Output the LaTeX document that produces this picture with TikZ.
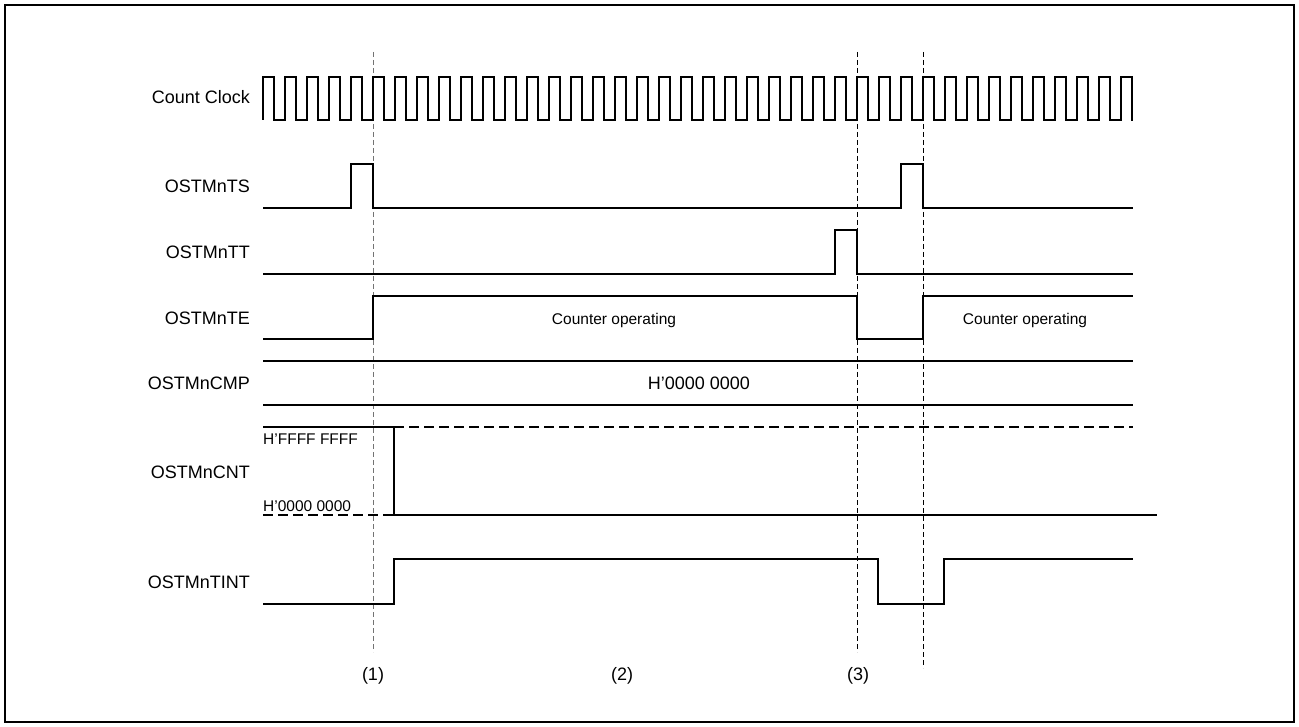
\documentclass[tikz,border=0pt]{standalone}
\usepackage{fontspec}
\setmainfont{Liberation Sans}
\begin{document}
\begin{tikzpicture}[x=1pt,y=-1pt,
  sig/.style={line width=1.6pt, line join=miter},
  lbl/.style={anchor=base east, inner sep=0pt, font=\fontsize{18}{20}\selectfont},
  val/.style={anchor=base, inner sep=0pt, font=\fontsize{18}{20}\selectfont},
  small/.style={anchor=base, inner sep=0pt, font=\fontsize{15.5}{18}\selectfont},
  smallw/.style={anchor=base west, inner sep=0pt, font=\fontsize{15.5}{18}\selectfont},
  guide/.style={line width=1pt, dash pattern=on 5pt off 3pt},
  lvl/.style={line width=1.6pt, dash pattern=on 10pt off 5pt}]
\useasboundingbox (0,0) rectangle (1299,727);
\draw[line width=2pt] (5,5) rectangle (1294,722);

% guide lines
\draw[guide, black!55] (373,52) -- (373,652);
\draw[guide] (857,52) -- (857,652);
\draw[guide] (923,52) -- (923,668);

% labels
\node[lbl] (lclk) at (250,103.5) {Count Clock};
\node[lbl] (lts) at (250,193) {OSTMnTS};
\node[lbl] (ltt) at (250,259) {OSTMnTT};
\node[lbl] (lte) at (250,325) {OSTMnTE};
\node[lbl] (lcmp) at (250,389.5) {OSTMnCMP};
\node[lbl] (lcnt) at (250,478) {OSTMnCNT};
\node[lbl] (ltint) at (250,588.5) {OSTMnTINT};

% Count Clock
\draw[sig] (263,120) \foreach \k in {0,...,38}{ -- ++(0,-43) -- ++(11,0) -- ++(0,43) -- ++(11,0)}
  -- ++(0,-43) -- ++(11,0) -- ++(0,43) -- ++(1,0);

% OSTMnTS
\draw[sig] (263,208) -- (351,208) -- (351,164) -- (373,164) -- (373,208) -- (901,208)
  -- (901,164) -- (923,164) -- (923,208) -- (1133,208);

% OSTMnTT
\draw[sig] (263,274) -- (835,274) -- (835,230) -- (857,230) -- (857,274) -- (1133,274);

% OSTMnTE
\draw[sig] (263,339) -- (373,339) -- (373,296) -- (857,296) -- (857,339) -- (923,339)
  -- (923,296) -- (1133,296);
\node[small] (op1) at (614,325) {Counter operating};
\node[small] (op2) at (1025,325) {Counter operating};

% OSTMnCMP
\draw[sig] (263,361) -- (1133,361);
\draw[sig] (263,405) -- (1133,405);
\node[val] (cmpv) at (699,389.5) {H’0000 0000};

% OSTMnCNT
\draw[sig] (263,427) -- (394,427) -- (394,515) -- (1157,515);
\draw[lvl] (394,427) -- (1133,427);
\draw[lvl] (263,515) -- (394,515);
\node[smallw] (cntmax) at (263,444) {H’FFFF FFFF};
\node[smallw] (cntmin) at (263,511) {H’0000 0000};

% OSTMnTINT
\draw[sig] (263,604) -- (394,604) -- (394,559) -- (878,559) -- (878,604) -- (944,604)
  -- (944,559) -- (1133,559);

% point labels
\node[val] (p1) at (373,680) {(1)};
\node[val] (p2) at (622,680) {(2)};
\node[val] (p3) at (858,680) {(3)};
\end{tikzpicture}
\end{document}
